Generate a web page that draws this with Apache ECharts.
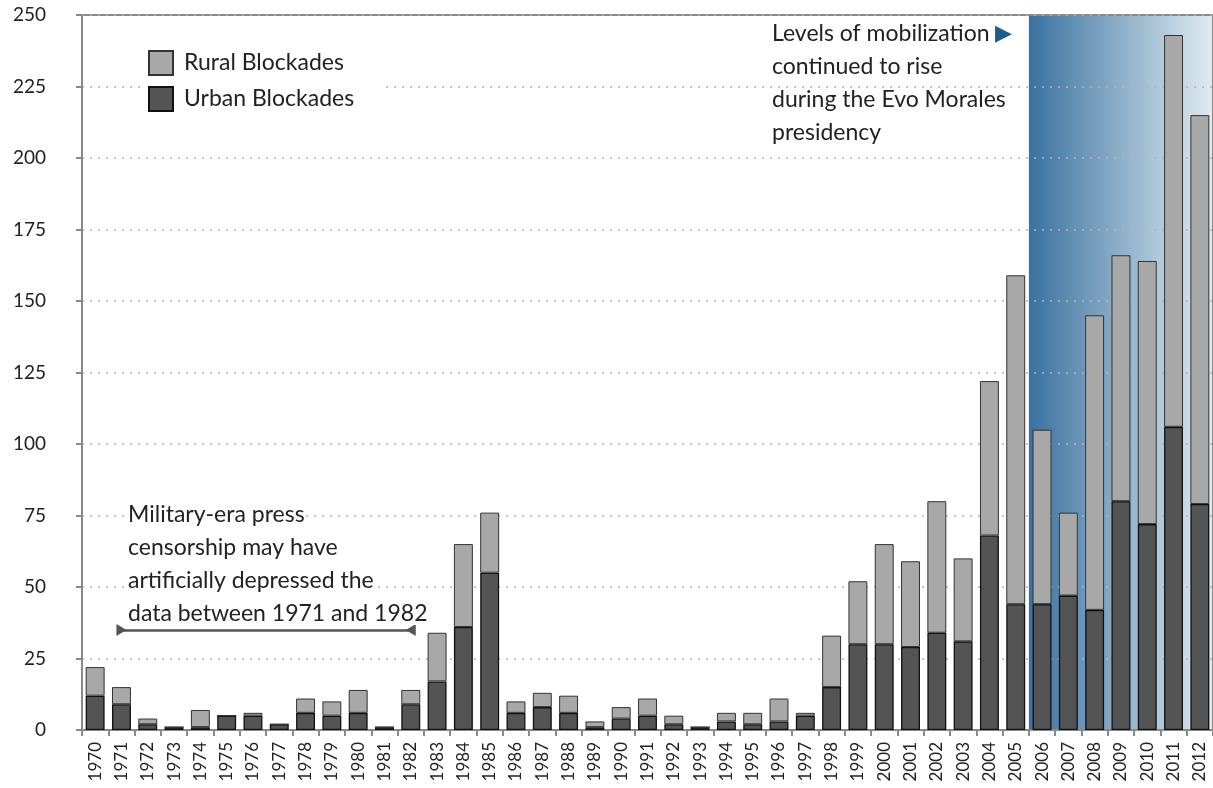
<!DOCTYPE html>
<html>
<head>
<meta charset="utf-8">
<script src="https://cdn.jsdelivr.net/npm/echarts@6/dist/echarts.min.js"></script>
<style>
  html, body { margin: 0; padding: 0; background: #fff; }
  #chart { width: 1213px; height: 788px; }
</style>
</head>
<body>
<div id="chart"></div>
<script>
// years on the x axis
const years = ['1970', '1971', '1972', '1973', '1974', '1975', '1976', '1977', '1978', '1979',
  '1980', '1981', '1982', '1983', '1984', '1985', '1986', '1987', '1988', '1989',
  '1990', '1991', '1992', '1993', '1994', '1995', '1996', '1997', '1998', '1999',
  '2000', '2001', '2002', '2003', '2004', '2005', '2006', '2007', '2008', '2009',
  '2010', '2011', '2012']

// urban blockades (bottom segment)
const urban = [12, 9, 2, 1, 1, 5, 5, 2, 6, 5,
  6, 1, 9, 17, 36, 55, 6, 8, 6, 1,
  4, 5, 2, 1, 3, 2, 3, 5, 15, 30,
  30, 29, 34, 31, 68, 44, 44, 47, 42, 80,
  72, 106, 79]

// rural blockades (top segment)
const rural = [10, 6, 2, 0, 6, 0, 1, 0, 5, 5,
  8, 0, 5, 17, 29, 21, 4, 5, 6, 2,
  4, 6, 3, 0, 3, 4, 8, 1, 18, 22,
  35, 30, 46, 29, 54, 115, 61, 29, 103, 86,
  92, 137, 136]

const yTicks = [0, 25, 50, 75, 100, 125, 150, 175, 200, 225, 250]

const censorNote = ['Military-era press', 'censorship may have', 'artificially depressed the', 'data between 1971 and 1982']
const moralesNote = ['Levels of mobilization', 'continued to rise', 'during the Evo Morales', 'presidency']

const font = 'Lato'
let chart = echarts.init(document.getElementById('chart'))

let option = {
  animation: false,
  textStyle: { fontFamily: font },
  grid: {
    left: 82, right: 0, top: 15, bottom: 58,
    show: true, borderColor: '#8a8a8a', borderWidth: 2, backgroundColor: 'transparent'
  },
  legend: {
    orient: 'vertical',
    left: 144, top: 46,
    icon: 'rect',
    itemWidth: 24, itemHeight: 24, itemGap: 10,
    backgroundColor: '#fff',
    padding: [4, 30, 4, 4],
    textStyle: { fontSize: 23, color: '#222', fontFamily: font, padding: [0, 0, 0, 6] },
    data: ['Rural Blockades', 'Urban Blockades']
  },
  xAxis: {
    type: 'category',
    data: years,
    axisLine: { lineStyle: { color: '#8a8a8a', width: 2 } },
    axisTick: { show: true, length: 6, lineStyle: { color: '#8a8a8a', width: 2 } },
    axisLabel: { rotate: 90, fontSize: 17, color: '#222', margin: 12, interval: 0 }
  },
  yAxis: {
    type: 'value',
    min: yTicks[0], max: yTicks[yTicks.length - 1], interval: 25,
    axisLine: { show: true, lineStyle: { color: '#8a8a8a', width: 2 } },
    axisTick: { show: true, length: 6, lineStyle: { color: '#8a8a8a', width: 2 } },
    axisLabel: { fontSize: 19, color: '#222', margin: 36 },
    splitLine: { show: true, lineStyle: { color: '#b4b4b4', width: 1.5, type: [2, 6] } }
  },
  series: [
    {
      name: 'Urban Blockades',
      type: 'bar',
      stack: 'all',
      data: urban,
      barCategoryGap: '28%',
      itemStyle: { color: '#545454', borderColor: '#111', borderWidth: 1.3 },
      markLine: {
        silent: true,
        symbol: ['path://M0,0 L10,0 L5,10 Z', 'path://M0,0 L10,0 L5,10 Z'],
        symbolSize: [12, 10],
        label: { show: false },
        lineStyle: { color: '#555', width: 2.5, type: 'solid' },
        data: [[{ coord: ['1971', 35] }, { coord: ['1982', 35] }]]
      }
    },
    {
      name: 'Rural Blockades',
      type: 'bar',
      stack: 'all',
      data: rural,
      barCategoryGap: '28%',
      itemStyle: { color: '#a8a8a8', borderColor: '#333', borderWidth: 1 }
    }
  ]
}
chart.setOption(option)

// shaded Morales-era band, starting between 2005 and 2006
let x05 = chart.convertToPixel({ xAxisIndex: 0 }, '2005')
let x06 = chart.convertToPixel({ xAxisIndex: 0 }, '2006')
let yTop = chart.convertToPixel({ yAxisIndex: 0 }, 250)
let yBot = chart.convertToPixel({ yAxisIndex: 0 }, 0)
let bandLeft = (x05 + x06) / 2

let graphics = [
  {
    type: 'rect', z: -1, silent: true,
    shape: { x: bandLeft, y: yTop, width: chart.getWidth() - bandLeft, height: yBot - yTop },
    style: {
      fill: new echarts.graphic.LinearGradient(0, 0, 1, 0, [
        { offset: 0, color: '#3a71a0' },
        { offset: 0.45, color: '#86a9c5' },
        { offset: 1, color: '#e1ebf2' }
      ])
    }
  }
]

censorNote.forEach((line, i) => {
  graphics.push({
    type: 'text', left: 128, top: 503 + i * 33, z: 10,
    style: { text: line, fontSize: 23, fontFamily: font, fill: '#222', backgroundColor: '#fff' }
  })
})
moralesNote.forEach((line, i) => {
  graphics.push({
    type: 'text', left: 772, top: 22 + i * 33, z: 10,
    style: {
      text: i === 0 ? line + ' {tri|▶}' : line,
      fontSize: 23, fontFamily: font, fill: '#222',
      rich: { tri: { fontSize: 22, fill: '#1f5d8f', color: '#1f5d8f' } }
    }
  })
})

chart.setOption({ graphic: graphics })
</script>
</body>
</html>
